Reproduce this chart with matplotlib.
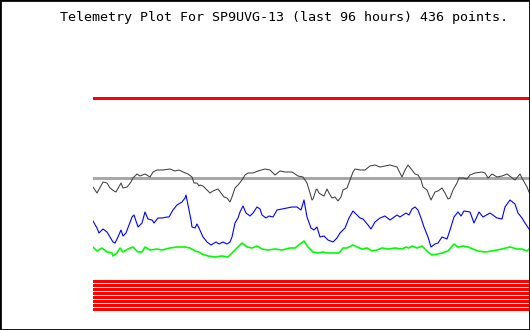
from matplotlib import pyplot as plt
from matplotlib.patches import Rectangle
import numpy as np

# sample index (0..436) and level for each telemetry channel
black_x = [0, 4, 10, 14, 17, 21, 23, 28, 30, 34, 38, 40, 44, 47, 52, 57, 60, 64, 70, 77,
           82, 86, 90, 95, 99, 101, 104, 106, 107, 110, 114, 117, 120, 125, 128, 131, 134,
           137, 139, 142, 145, 149, 152, 155, 160, 165, 172, 177, 182, 187, 192, 199, 202,
           205, 210, 214, 217, 219, 220, 223, 224, 226, 229, 231, 234, 236, 239, 242, 245,
           248, 250, 254, 257, 260, 262, 267, 272, 277, 282, 287, 297, 304, 309, 312, 315,
           319, 322, 325, 328, 330, 334, 336, 338, 342, 345, 349, 352, 355, 357, 360, 364,
           366, 370, 374, 377, 382, 389, 392, 395, 399, 404, 409, 414, 422, 427, 430, 434, 436]
black_y = [143, 137, 148, 147, 142, 139, 138, 147, 142, 143, 148, 152, 156, 154, 156, 153,
           158, 160, 160, 161, 159, 160, 158, 156, 153, 147, 147, 144, 145, 144, 140, 137,
           139, 141, 137, 133, 132, 128, 133, 142, 145, 150, 155, 157, 157, 159, 161, 160,
           155, 159, 158, 158, 156, 154, 153, 147, 137, 130, 131, 140, 141, 137, 135, 134,
           141, 137, 132, 133, 129, 133, 140, 142, 150, 158, 161, 160, 160, 164, 165, 163,
           165, 163, 153, 160, 165, 160, 156, 155, 150, 143, 140, 135, 130, 138, 139, 142,
           137, 131, 132, 140, 147, 152, 152, 151, 155, 157, 158, 157, 152, 156, 153, 154,
           156, 150, 156, 150, 143, 138]

blue_x = [0, 4, 6, 10, 14, 17, 20, 22, 25, 28, 30, 33, 36, 39, 41, 45, 49, 52, 55, 59, 61,
          65, 69, 74, 76, 80, 84, 89, 92, 93, 94, 96, 98, 99, 102, 104, 106, 110, 114, 118,
          123, 126, 130, 134, 137, 139, 142, 145, 147, 150, 153, 157, 160, 164, 167, 169,
          173, 176, 180, 184, 189, 194, 199, 204, 208, 211, 214, 218, 221, 224, 227, 231,
          235, 240, 244, 247, 252, 256, 260, 264, 267, 270, 275, 278, 282, 287, 292, 297,
          304, 307, 313, 316, 319, 322, 325, 328, 331, 335, 338, 342, 345, 349, 354, 357,
          361, 365, 368, 371, 377, 381, 386, 390, 397, 404, 409, 412, 417, 422, 425, 429,
          432, 436]
blue_y = [109, 102, 97, 101, 98, 93, 88, 87, 93, 100, 94, 97, 105, 113, 115, 103, 107, 118,
          111, 110, 107, 112, 112, 113, 113, 120, 125, 128, 132, 135, 130, 120, 110, 103,
          102, 106, 102, 93, 88, 85, 88, 86, 88, 86, 88, 93, 107, 112, 118, 124, 117, 114,
          117, 123, 121, 115, 112, 114, 113, 120, 121, 122, 123, 123, 120, 130, 113, 102,
          100, 103, 93, 94, 90, 88, 92, 97, 102, 112, 119, 115, 112, 111, 105, 101, 108,
          112, 114, 110, 115, 113, 117, 115, 121, 123, 120, 112, 103, 93, 83, 86, 87, 93,
          91, 100, 113, 118, 114, 119, 118, 107, 118, 113, 117, 112, 111, 123, 130, 126,
          117, 112, 107, 101]

green_x = [0, 4, 9, 14, 19, 20, 24, 27, 30, 35, 40, 45, 49, 52, 57, 64, 69, 77, 84, 92, 97,
           102, 106, 109, 115, 122, 129, 135, 139, 144, 149, 154, 159, 164, 169, 175, 182,
           189, 197, 202, 207, 211, 215, 220, 225, 230, 234, 240, 246, 250, 254, 260, 264,
           269, 274, 279, 284, 289, 295, 302, 309, 313, 316, 319, 324, 329, 332, 335, 339,
           345, 349, 355, 361, 365, 370, 375, 380, 385, 392, 399, 409, 417, 424, 429, 434, 436]
green_y = [83, 79, 82, 78, 77, 74, 77, 82, 78, 81, 83, 78, 78, 83, 80, 81, 80, 82, 83, 83,
           82, 79, 78, 76, 74, 73, 74, 73, 77, 82, 87, 83, 82, 84, 81, 80, 81, 80, 82, 82,
           86, 89, 83, 78, 77, 78, 77, 77, 77, 82, 82, 85, 83, 81, 82, 79, 80, 82, 81, 82,
           81, 83, 82, 84, 82, 84, 81, 78, 75, 76, 77, 79, 86, 83, 84, 83, 81, 79, 78, 79,
           81, 83, 81, 81, 79, 81]

upper_limit = 232.5
reference = 152.3
floor_levels = [49, 45, 41, 37, 33, 29, 25, 21]

title = "Telemetry Plot For SP9UVG-13 (last 96 hours) 436 points."

fig = plt.figure(figsize=(5.3, 3.3), dpi=100)
fig.patch.set_facecolor("white")
ax = fig.add_axes([93 / 530, 0, 437 / 530, 1])
ax.set_xlim(0, 437)
ax.set_ylim(0, 330)
ax.axis("off")

ax.axhline(upper_limit, color="#ff0000", lw=2.0, antialiased=False)
ax.axhline(reference, color="#a8a8a8", lw=2.0, antialiased=False)
for lev in floor_levels:
    ax.axhline(lev, color="#ff0000", lw=1.9, antialiased=False)

ax.plot(black_x, black_y, color="#404040", lw=0.75)
ax.plot(blue_x, blue_y, color="#0000ff", lw=0.8)
ax.plot(green_x, green_y, color="#00ff00", lw=1.2)

fig.text(283.5 / 530, 1 - 17 / 330, title, ha="center", va="center",
         family="DejaVu Sans Mono", size=9.6)

fig.patches.append(Rectangle((0, 0), 1, 1, transform=fig.transFigure, fill=False,
                             edgecolor="black", lw=2, clip_on=False))

fig.savefig("out.png", dpi=100)
